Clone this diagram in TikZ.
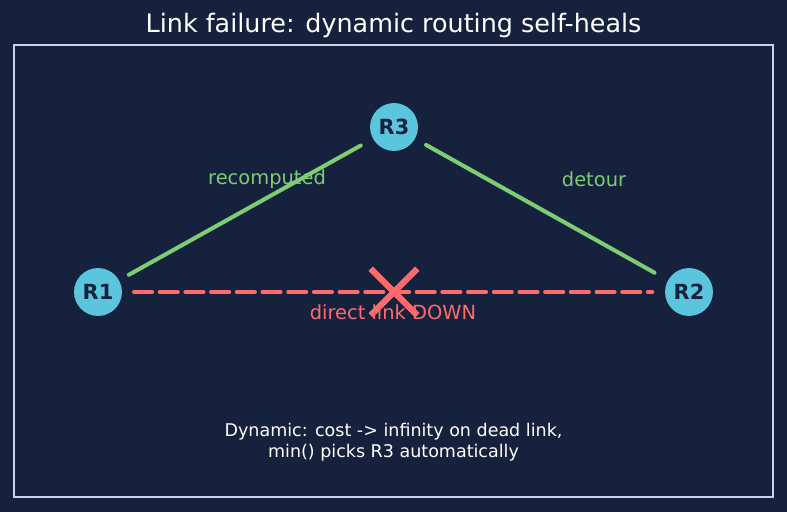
\documentclass[tikz,border=0pt]{standalone}
\usepackage{fontspec}
\setmainfont{DejaVu Sans}
\usepackage{xcolor}
\usetikzlibrary{shapes.misc}

\definecolor{bgnavy}{HTML}{16213E}
\definecolor{routercyan}{HTML}{5BC5DE}
\definecolor{routertext}{HTML}{16213E}
\definecolor{okgreen}{HTML}{7DCD74}
\definecolor{downred}{HTML}{FF6B6B}
\definecolor{framegray}{HTML}{C9D3E3}

\begin{document}
\begin{tikzpicture}[x=0.72pt, y=-0.72pt,
  every node/.style={font=\fontsize{12}{14}\selectfont},
  router/.style={circle, fill=routercyan, minimum size=34.5pt, inner sep=0pt, text=routertext, font=\fontsize{15}{17}\selectfont\bfseries},
  path/.style={okgreen, line width=2.9pt, line cap=round},
  deadlink/.style={downred, line width=2.9pt, line cap=round, dash pattern=on 13pt off 5.5pt},
  lbl/.style={font=\fontsize{14}{16}\selectfont}
]

% Background and frame
\fill[bgnavy] (0,0) rectangle (787,512);
\useasboundingbox (0,0) rectangle (787,512);
\draw[framegray, line width=1.1pt] (14,45) rectangle (773,497);

% Title
\node[text=white, font=\fontsize{18.3}{21}\selectfont] (title) at (393.5,25) {Link failure: dynamic routing self-heals};

% Routers
\node[router] (r1) at (98,292) {R1};
\node[router] (r2) at (689,292) {R2};
\node[router] (r3) at (394,127) {R3};

% Recomputed path via R3
\draw[path, shorten <=8pt, shorten >=10pt] (r1) -- (r3);
\draw[path, shorten <=9pt, shorten >=11pt] (r3) -- (r2);

% Dead direct link
\draw[deadlink, shorten <=8.5pt, shorten >=9pt] (r1) -- (r2);
\node[cross out, draw=downred, line width=4.5pt, minimum size=29pt, inner sep=0pt] (xmark) at (394,292) {};

% Labels
\node[lbl, text=okgreen] (lrecomp) at (267,179) {recomputed};
\node[lbl, text=okgreen] (ldetour) at (594,179) {detour};
\node[lbl, text=downred] (ldown) at (393,312) {direct link DOWN};

% Note
\node[text=white, align=center, font=\fontsize{12.6}{15}\selectfont] (note) at (393.5,442) {Dynamic: cost -> infinity on dead link,\\min() picks R3 automatically};

\end{tikzpicture}
\end{document}
